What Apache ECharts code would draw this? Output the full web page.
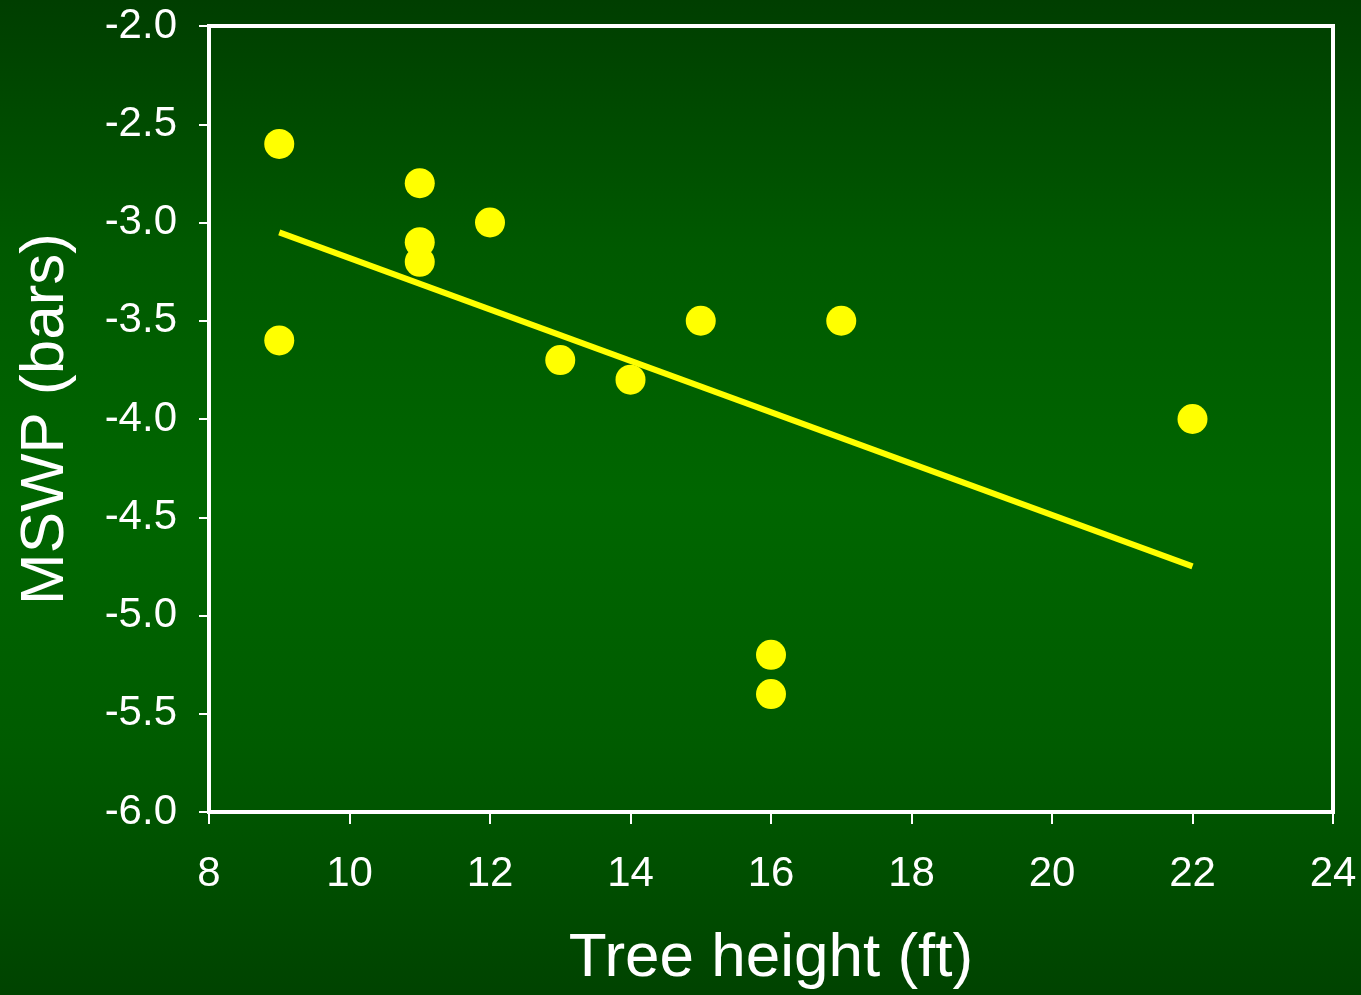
<!DOCTYPE html>
<html>
<head>
<meta charset="utf-8">
<script src="https://cdn.jsdelivr.net/npm/echarts@6/dist/echarts.min.js"></script>
<style>
  html, body { margin: 0; padding: 0; width: 100%; height: 100%; overflow: hidden; }
  #chart { width: 1361px; height: 995px; }
</style>
</head>
<body>
<div id="chart"></div>
<script>
// Tree height (ft) against midday stem water potential (bars)
var treeHeight = [9, 9, 11, 11, 11, 12, 13, 14, 15, 16, 16, 17, 22];
var mswp = [-2.6, -3.6, -2.8, -3.1, -3.2, -3.0, -3.7, -3.8, -3.5, -5.2, -5.4, -3.5, -4.0];

// Fitted trend line endpoints
var trendX = [9, 22];
var trendY = [-3.05, -4.75];

var points = treeHeight.map(function (x, i) { return [x, mswp[i]]; });
var trend = trendX.map(function (x, i) { return [x, trendY[i]]; });

var chart = echarts.init(document.getElementById('chart'));
var font = 'Liberation Sans, Arial, sans-serif';

chart.setOption({
  animation: false,
  backgroundColor: new echarts.graphic.LinearGradient(0, 0, 0, 1, [
    { offset: 0, color: '#003e00' },
    { offset: 0.25, color: '#005900' },
    { offset: 0.5, color: '#006600' },
    { offset: 0.75, color: '#005b00' },
    { offset: 1, color: '#004300' }
  ]),
  grid: {
    left: 209, right: 28, top: 26, bottom: 181,
    show: true, borderColor: '#ffffff', borderWidth: 4,
    backgroundColor: 'transparent'
  },
  xAxis: {
    type: 'value', min: 8, max: 24, interval: 2,
    name: 'Tree height (ft)', nameLocation: 'middle', nameGap: 116,
    nameTextStyle: { color: '#ffffff', fontSize: 62, fontFamily: font },
    axisLine: { show: true, onZero: false, lineStyle: { color: '#ffffff', width: 4 } },
    axisTick: { show: true, length: 12, lineStyle: { color: '#ffffff', width: 2 } },
    axisLabel: { color: '#ffffff', fontSize: 42, fontFamily: font, margin: 41 },
    splitLine: { show: false }
  },
  yAxis: {
    type: 'value', min: -6, max: -2, interval: 0.5,
    name: 'MSWP (bars)', nameLocation: 'middle', nameGap: 132,
    nameTextStyle: { color: '#ffffff', fontSize: 62, fontFamily: font },
    axisLine: { show: true, onZero: false, lineStyle: { color: '#ffffff', width: 4 } },
    axisTick: { show: true, length: 10, lineStyle: { color: '#ffffff', width: 2 } },
    axisLabel: {
      color: '#ffffff', fontSize: 42, fontFamily: font, margin: 32,
      formatter: function (v) { return v.toFixed(1); }
    },
    splitLine: { show: false }
  },
  series: [
    {
      type: 'line',
      data: trend,
      symbol: 'none',
      lineStyle: { color: '#ffff00', width: 6 },
      z: 2
    },
    {
      type: 'scatter',
      data: points,
      symbolSize: 30,
      itemStyle: { color: '#ffff00', opacity: 1 },
      z: 3
    }
  ]
});
</script>
</body>
</html>
